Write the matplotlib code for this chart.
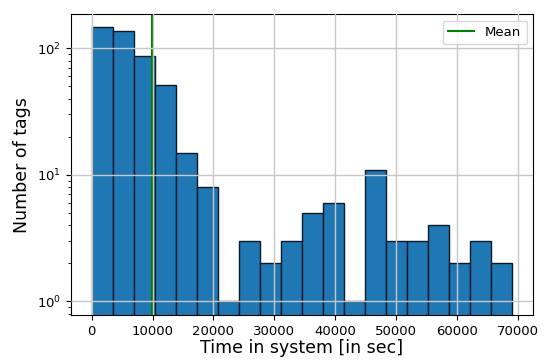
import numpy as np
import matplotlib
matplotlib.use("Agg")
import matplotlib.pyplot as plt

# histogram of time in system per tag
counts = [147, 138, 87, 51, 15, 8, 1, 3, 2, 3, 5, 6, 1, 11, 3, 3, 4, 2, 3, 2]
min_time = 0
max_time = 69080
mean_time = 9850

edges = np.linspace(min_time, max_time, len(counts) + 1)
centers = (edges[:-1] + edges[1:]) / 2

fig = plt.figure(figsize=(5.44, 3.63), dpi=100)
ax = fig.add_axes([0.130, 0.132, 0.850, 0.829])

ax.hist(centers, bins=edges, weights=counts, color="#1f77b4",
        edgecolor="#0a1a2a", linewidth=1.0, log=True)
ax.axvline(mean_time, color="green", linewidth=1.5, label="Mean")

ax.set_yscale("log")
ax.set_ylim(0.78, 186)
ax.grid(True, color="#c8c8c8", linewidth=1.0)
ax.set_axisbelow(False)
ax.set_xticks(np.arange(0, 70001, 10000))
ax.tick_params(labelsize=9.5)
ax.set_xlabel("Time in system [in sec]", fontsize=12.5, labelpad=1)
ax.set_ylabel("Number of tags", fontsize=12.5)
ax.legend(loc="upper right", fontsize=9.5)

fig.savefig("out.png", dpi=100)
